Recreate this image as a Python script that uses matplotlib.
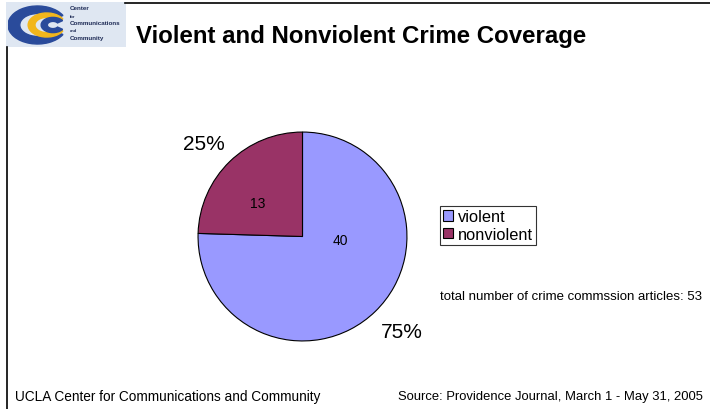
import matplotlib.pyplot as plt
from matplotlib.patches import Wedge, Rectangle
from matplotlib.lines import Line2D

plt.rcParams['font.family'] = ['Liberation Sans', 'DejaVu Sans']

categories = ['violent', 'nonviolent']
counts = [40, 13]
colors = ['#9999ff', '#993366']
total = sum(counts)

W, H = 710, 410
fig = plt.figure(figsize=(W / 100, H / 100), dpi=100)


def px(x, y):
    # pixel position from top-left -> figure fraction
    return x / W, 1 - y / H


# frame lines
fig.add_artist(Line2D([125 / W, 1], [1 - 4 / H] * 2, color='black', lw=1.2))
fig.add_artist(Line2D([7 / W] * 2, [0, 1 - 48 / H], color='black', lw=1.2))

# logo: background + text
lax = fig.add_axes([6 / W, 1 - 48 / H, 120 / W, 45 / H])
lax.set_xlim(0, 120)
lax.set_ylim(0, 45)
lax.axis('off')
lax.add_patch(Rectangle((0, 0), 120, 45, color='#dfe7f2'))
for yy, s, fs in [(39, 'Center', 4.5), (31.5, 'for', 3), (24.5, 'Communications', 4.5),
                  (17.5, 'and', 3), (9.5, 'Community', 4.5)]:
    lax.text(64, yy, s, fontsize=fs, fontweight='bold', color='#1d2a55', va='center')

# logo: stretched C rings
cax = fig.add_axes([8 / W, 1 - 46 / H, 62 / W, 40 / H])
cax.set_xlim(-1, 1)
cax.set_ylim(-1, 1)
cax.axis('off')
cax.add_patch(Wedge((-0.05, 0), 0.95, 30, 330, width=0.38, color='#2a4b9b'))
cax.add_patch(Wedge((0.25, 0), 0.6, 30, 330, width=0.22, color='#f2b61c'))
cax.add_patch(Wedge((0.45, 0), 0.38, 35, 325, width=0.2, color='#2a4b9b'))

fig.text(*px(136, 36), 'Violent and Nonviolent Crime Coverage', fontsize=17.3,
         fontweight='bold', va='center', ha='left')

# pie
ax = fig.add_axes([197 / W, 1 - 343 / H, 211 / W, 211 / H])
wedges, _ = ax.pie(counts, colors=colors, startangle=90, counterclock=False,
                   radius=1, wedgeprops=dict(edgecolor='black', linewidth=0.8))
ax.set_xlim(-1.01, 1.01)
ax.set_ylim(-1.01, 1.01)
ax.set_aspect('equal')

# count labels inside, percent labels outside
ax.text(0.36, -0.03, str(counts[0]), fontsize=10, ha='center', va='center')
ax.text(-0.43, 0.32, str(counts[1]), fontsize=10, ha='center', va='center')
fig.text(*px(204, 145), f'{round(100 * counts[1] / total)}%', fontsize=15,
         ha='center', va='center')
fig.text(*px(402, 333), f'{round(100 * counts[0] / total)}%', fontsize=15,
         ha='center', va='center')

leg = fig.legend(wedges, categories, loc='upper left',
                 bbox_to_anchor=px(440, 207), fontsize=11.8, frameon=True,
                 fancybox=False, edgecolor='black', handlelength=0.6,
                 handleheight=0.6, handletextpad=0.3, borderpad=0.2,
                 labelspacing=0.15, borderaxespad=0)
leg.get_frame().set_linewidth(0.8)

fig.text(*px(440, 297), f'total number of crime commssion articles: {total}',
         fontsize=9.5, ha='left', va='center')

fig.text(*px(15, 397), 'UCLA Center for Communications and Community',
         fontsize=9.8, ha='left', va='center')
fig.text(*px(398, 397), 'Source: Providence Journal, March 1 - May 31, 2005',
         fontsize=9.4, ha='left', va='center')

fig.savefig('out.png', dpi=100)
